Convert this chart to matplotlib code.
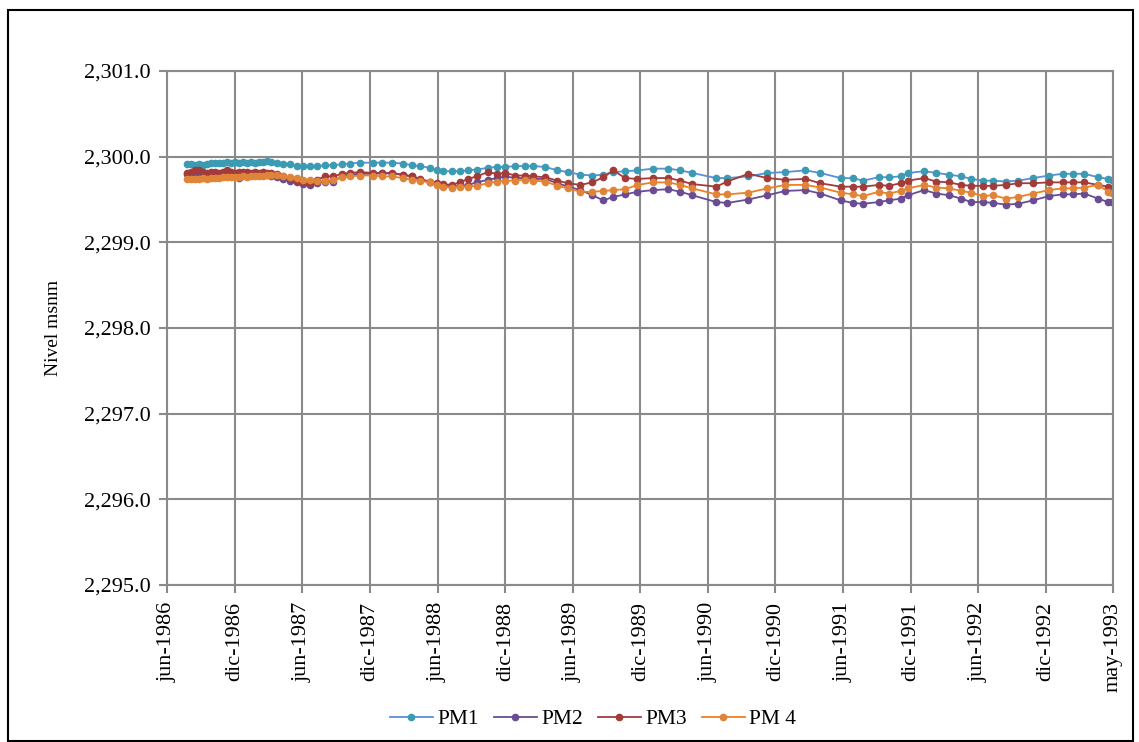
import matplotlib
matplotlib.use("Agg")
import matplotlib.pyplot as plt
import matplotlib.dates as mdates
from matplotlib.ticker import FuncFormatter
from matplotlib.patches import Rectangle
import pandas as pd

plt.rcParams['font.family'] = ['Liberation Serif', 'DejaVu Serif']

# fechas de medicion (comunes a los 4 piezometros)
fechas = [
    '1986-07-25', '1986-08-04', '1986-08-15', '1986-08-26', '1986-09-06', '1986-09-17', '1986-09-28', '1986-10-08', '1986-10-19', '1986-10-30',
    '1986-11-10', '1986-11-21', '1986-12-02', '1986-12-13', '1986-12-23', '1987-01-03', '1987-01-14', '1987-01-25', '1987-02-04', '1987-02-15',
    '1987-02-26', '1987-03-09', '1987-03-25', '1987-04-10', '1987-04-29', '1987-05-18', '1987-06-03', '1987-06-22', '1987-07-11', '1987-08-02',
    '1987-08-23', '1987-09-17', '1987-10-08', '1987-11-04', '1987-12-09', '1988-01-03', '1988-01-30', '1988-02-28', '1988-03-24', '1988-04-14',
    '1988-05-11', '1988-05-30', '1988-06-15', '1988-07-09', '1988-07-31', '1988-08-22', '1988-09-15', '1988-10-15', '1988-11-08', '1988-12-01',
    '1988-12-28', '1989-01-24', '1989-02-15', '1989-03-19', '1989-04-21', '1989-05-20', '1989-06-22', '1989-07-24', '1989-08-23', '1989-09-19',
    '1989-10-21', '1989-11-23', '1990-01-05', '1990-02-15', '1990-03-19', '1990-04-20', '1990-06-24', '1990-07-24', '1990-09-19', '1990-11-09',
    '1990-12-28', '1991-02-20', '1991-04-01', '1991-05-26', '1991-06-28', '1991-07-25', '1991-09-06', '1991-10-03', '1991-11-05', '1991-11-24',
    '1992-01-07', '1992-02-08', '1992-03-14', '1992-04-16', '1992-05-13', '1992-06-14', '1992-07-11', '1992-08-15', '1992-09-17', '1992-10-27',
    '1992-12-09', '1993-01-16', '1993-02-12', '1993-03-14', '1993-04-21', '1993-05-18', '1993-05-29',
]

pm1 = [
    2299.91, 2299.91, 2299.90, 2299.91, 2299.90, 2299.91, 2299.93, 2299.93, 2299.93, 2299.93,
    2299.94, 2299.93, 2299.94, 2299.93, 2299.94, 2299.93, 2299.94, 2299.93, 2299.94, 2299.94,
    2299.95, 2299.94, 2299.93, 2299.92, 2299.91, 2299.89, 2299.89, 2299.89, 2299.89, 2299.90,
    2299.90, 2299.91, 2299.92, 2299.93, 2299.93, 2299.93, 2299.93, 2299.92, 2299.90, 2299.89,
    2299.87, 2299.84, 2299.83, 2299.83, 2299.83, 2299.84, 2299.85, 2299.87, 2299.88, 2299.88,
    2299.89, 2299.89, 2299.89, 2299.88, 2299.84, 2299.82, 2299.79, 2299.78, 2299.79, 2299.82,
    2299.83, 2299.84, 2299.86, 2299.86, 2299.84, 2299.81, 2299.75, 2299.75, 2299.77, 2299.81,
    2299.82, 2299.84, 2299.81, 2299.75, 2299.75, 2299.72, 2299.76, 2299.76, 2299.77, 2299.81,
    2299.83, 2299.81, 2299.79, 2299.77, 2299.74, 2299.72, 2299.72, 2299.71, 2299.72, 2299.75,
    2299.78, 2299.80, 2299.80, 2299.80, 2299.76, 2299.74, 2299.73,
]

pm2 = [
    2299.80, 2299.79, 2299.80, 2299.79, 2299.79, 2299.80, 2299.79, 2299.79, 2299.80, 2299.79,
    2299.79, 2299.80, 2299.79, 2299.75, 2299.79, 2299.79, 2299.80, 2299.79, 2299.80, 2299.79,
    2299.79, 2299.78, 2299.76, 2299.74, 2299.72, 2299.70, 2299.68, 2299.67, 2299.69, 2299.71,
    2299.71, 2299.77, 2299.79, 2299.80, 2299.80, 2299.81, 2299.80, 2299.79, 2299.77, 2299.73,
    2299.70, 2299.68, 2299.66, 2299.65, 2299.66, 2299.67, 2299.70, 2299.73, 2299.75, 2299.77,
    2299.75, 2299.75, 2299.74, 2299.74, 2299.69, 2299.65, 2299.61, 2299.55, 2299.49, 2299.53,
    2299.56, 2299.59, 2299.61, 2299.62, 2299.59, 2299.55, 2299.47, 2299.46, 2299.50, 2299.55,
    2299.60, 2299.61, 2299.57, 2299.49, 2299.46, 2299.45, 2299.47, 2299.49, 2299.51, 2299.55,
    2299.61, 2299.57, 2299.55, 2299.51, 2299.47, 2299.47, 2299.46, 2299.44, 2299.45, 2299.49,
    2299.54, 2299.56, 2299.56, 2299.57, 2299.51, 2299.47, 2299.47,
]

pm3 = [
    2299.81, 2299.82, 2299.84, 2299.85, 2299.82, 2299.81, 2299.82, 2299.82, 2299.81, 2299.82,
    2299.84, 2299.82, 2299.81, 2299.82, 2299.82, 2299.82, 2299.81, 2299.82, 2299.81, 2299.82,
    2299.81, 2299.81, 2299.80, 2299.78, 2299.75, 2299.72, 2299.70, 2299.69, 2299.73, 2299.77,
    2299.77, 2299.80, 2299.81, 2299.82, 2299.81, 2299.81, 2299.81, 2299.79, 2299.77, 2299.74,
    2299.71, 2299.69, 2299.68, 2299.67, 2299.70, 2299.74, 2299.77, 2299.82, 2299.80, 2299.81,
    2299.78, 2299.78, 2299.77, 2299.76, 2299.72, 2299.69, 2299.67, 2299.70, 2299.76, 2299.84,
    2299.75, 2299.74, 2299.75, 2299.75, 2299.72, 2299.68, 2299.65, 2299.71, 2299.80, 2299.75,
    2299.73, 2299.74, 2299.69, 2299.65, 2299.65, 2299.65, 2299.67, 2299.66, 2299.69, 2299.72,
    2299.75, 2299.71, 2299.70, 2299.67, 2299.66, 2299.66, 2299.66, 2299.67, 2299.69, 2299.69,
    2299.70, 2299.70, 2299.70, 2299.70, 2299.67, 2299.65, 2299.64,
]

pm4 = [
    2299.74, 2299.74, 2299.74, 2299.74, 2299.75, 2299.74, 2299.75, 2299.75, 2299.75, 2299.76,
    2299.76, 2299.76, 2299.76, 2299.76, 2299.77, 2299.76, 2299.77, 2299.77, 2299.77, 2299.78,
    2299.79, 2299.79, 2299.79, 2299.77, 2299.76, 2299.75, 2299.73, 2299.73, 2299.72, 2299.72,
    2299.73, 2299.76, 2299.77, 2299.78, 2299.78, 2299.77, 2299.77, 2299.75, 2299.73, 2299.72,
    2299.70, 2299.67, 2299.65, 2299.64, 2299.65, 2299.65, 2299.66, 2299.69, 2299.71, 2299.72,
    2299.72, 2299.73, 2299.72, 2299.71, 2299.66, 2299.63, 2299.59, 2299.59, 2299.60, 2299.61,
    2299.62, 2299.67, 2299.70, 2299.70, 2299.67, 2299.63, 2299.56, 2299.56, 2299.58, 2299.63,
    2299.67, 2299.67, 2299.64, 2299.58, 2299.56, 2299.54, 2299.59, 2299.57, 2299.60, 2299.63,
    2299.67, 2299.64, 2299.63, 2299.60, 2299.58, 2299.54, 2299.55, 2299.51, 2299.53, 2299.57,
    2299.61, 2299.63, 2299.63, 2299.64, 2299.67, 2299.59, 2299.58,
]

nombres = ['PM1', 'PM2', 'PM3', 'PM 4']
colores_linea = ['#5B8FD6', '#6A4C93', '#A23B3A', '#F07F22']
colores_marca = ['#3A9BB2', '#6A4C93', '#A23B3A', '#E0843A']

etiquetas_x = ['jun-1986', 'dic-1986', 'jun-1987', 'dic-1987', 'jun-1988', 'dic-1988', 'jun-1989',
               'dic-1989', 'jun-1990', 'dic-1990', 'jun-1991', 'dic-1991', 'jun-1992', 'dic-1992', 'may-1993']
fechas_ticks = ['1986-06-01', '1986-12-01', '1987-06-01', '1987-12-01', '1988-06-01', '1988-12-01', '1989-06-01',
                '1989-12-01', '1990-06-01', '1990-12-01', '1991-06-01', '1991-12-01', '1992-06-01', '1992-12-01', '1993-05-31']

x = pd.to_datetime(fechas)
xt = pd.to_datetime(fechas_ticks)

fig = plt.figure(figsize=(11.39, 7.42), dpi=100)
ax = fig.add_axes([167/1139, 1-585/742, (1113-167)/1139, (585-71)/742])

for serie, nombre, cl, cm in zip([pm1, pm2, pm3, pm4], nombres, colores_linea, colores_marca):
    ax.plot(x, serie, color=cl, lw=1.3, marker='o', markersize=4.5,
            markerfacecolor=cm, markeredgecolor=cm, label=nombre)

ax.set_xlim(xt[0], xt[-1])
ax.set_ylim(2295, 2301)
ax.set_yticks([2295, 2296, 2297, 2298, 2299, 2300, 2301])
ax.yaxis.set_major_formatter(FuncFormatter(lambda v, p: f"{v:,.1f}"))
ax.set_xticks(xt)
ax.set_xticklabels(etiquetas_x, rotation=90)

gris = '#8A8A8A'
ax.grid(True, color=gris, lw=1.5)
ax.set_axisbelow(True)
for s in ax.spines.values():
    s.set_color(gris)
    s.set_linewidth(1.5)
ax.tick_params(axis='both', colors=gris, length=6, width=1.5, labelsize=16, labelcolor='black', pad=6)

ax.set_ylabel('Nivel msnm', fontsize=14)
ax.yaxis.set_label_coords(-0.111, 0.5)

fig.legend(loc='center', bbox_to_anchor=(593/1139, 1-719/742), ncol=4, frameon=False,
           fontsize=15.5, handlelength=2.0, handletextpad=0.2, columnspacing=0.7)

fig.patches.append(Rectangle((8/1139, 1-741/742), (1133-8)/1139, (741-10)/742,
                             transform=fig.transFigure, fill=False, edgecolor='black', lw=1.5))

fig.savefig('out.png', dpi=100)
